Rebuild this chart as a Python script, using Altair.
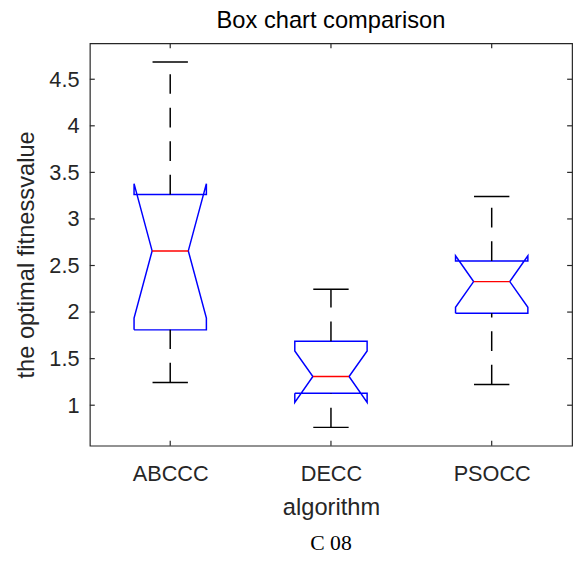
import altair as alt
import pandas as pd

# ---- data ----
categories = ["ABCCC", "DECC", "PSOCC"]
positions = [1, 2, 3]
upper_whisker = [4.684, 2.245, 3.242]
q3 = [3.263, 1.688, 2.549]
median = [2.657, 1.308, 2.327]
q1 = [1.809, 1.128, 1.988]
lower_whisker = [1.244, 0.762, 1.223]
notch_hi = [3.379, 1.583, 2.605]
notch_lo = [1.935, 1.029, 2.052]
y_tick_values = [1, 1.5, 2, 2.5, 3, 3.5, 4, 4.5]
y_domain = [0.565, 4.885]
x_domain = [0.5, 3.5]

# ---- style ----
W, H = 489, 408
BOX_HALF = 0.225
NOTCH_HALF = 0.1125
CAP_HALF = 0.11
AX = "#262626"
FONT = "Liberation Sans"

rows = []
for i, c in enumerate(categories):
    p = positions[i]
    pts = [
        (p - BOX_HALF, q1[i]), (p - BOX_HALF, notch_lo[i]), (p - NOTCH_HALF, median[i]),
        (p - BOX_HALF, notch_hi[i]), (p - BOX_HALF, q3[i]), (p + BOX_HALF, q3[i]),
        (p + BOX_HALF, notch_hi[i]), (p + NOTCH_HALF, median[i]), (p + BOX_HALF, notch_lo[i]),
        (p + BOX_HALF, q1[i]), (p - BOX_HALF, q1[i]),
    ]
    for k, (x, y) in enumerate(pts):
        rows.append({"cat": c, "order": k, "x": x, "y": y})
box_df = pd.DataFrame(rows)

stats = pd.DataFrame({
    "cat": categories, "pos": positions, "upper": upper_whisker, "q3": q3,
    "median": median, "q1": q1, "lower": lower_whisker,
})
stats["cap_l"] = stats["pos"] - CAP_HALF
stats["cap_r"] = stats["pos"] + CAP_HALF
stats["med_l"] = stats["pos"] - NOTCH_HALF
stats["med_r"] = stats["pos"] + NOTCH_HALF

xs = alt.Scale(domain=x_domain, nice=False, zero=False)
ys = alt.Scale(domain=y_domain, nice=False, zero=False)

label_expr = "[" + ",".join(f"'{c}'" for c in categories) + "][datum.value-1]"

x_axis = alt.Axis(values=positions, labelExpr=label_expr, title="algorithm", tickSize=0,
                  labelPadding=35, labelBaseline="alphabetic", titleBaseline="alphabetic",
                  titleY=70, domain=False, grid=False, ticks=False)
y_axis = alt.Axis(values=y_tick_values, format="~g", title="the optimal fitnessvalue",
                  tickSize=0, labelPadding=11, titleBaseline="alphabetic", titleX=-57,
                  titleY=214, titleAngle=270, titleAlign="center", domain=False,
                  grid=False, ticks=False)


def X(field):
    return alt.X(field, scale=xs, axis=x_axis, title="algorithm")


def Y(field):
    return alt.Y(field, scale=ys, axis=y_axis, title="the optimal fitnessvalue")


boxes = alt.Chart(box_df).mark_line(color="#0000FF", strokeWidth=1.5).encode(
    x=X("x:Q"), y=Y("y:Q"), detail="cat:N", order="order:Q",
)

base = alt.Chart(stats)
upper_w = base.mark_rule(color="black", strokeWidth=1.5, strokeDash=[20, 14]).encode(
    x=X("pos:Q"), y=Y("q3:Q"), y2="upper:Q")
lower_w = base.mark_rule(color="black", strokeWidth=1.5, strokeDash=[20, 14]).encode(
    x=X("pos:Q"), y=Y("lower:Q"), y2="q1:Q")
upper_cap = base.mark_rule(color="black", strokeWidth=1.5).encode(
    x=X("cap_l:Q"), x2="cap_r:Q", y=Y("upper:Q"))
lower_cap = base.mark_rule(color="black", strokeWidth=1.5).encode(
    x=X("cap_l:Q"), x2="cap_r:Q", y=Y("lower:Q"))
med = base.mark_rule(color="#FF0000", strokeWidth=1.5).encode(
    x=X("med_l:Q"), x2="med_r:Q", y=Y("median:Q"))

ytick_df = pd.DataFrame({"v": y_tick_values})
xtick_df = pd.DataFrame({"p": positions})
TL = 5
yt_left = alt.Chart(ytick_df).mark_rule(color=AX, strokeWidth=1.2).encode(
    y=Y("v:Q"), x=alt.value(0), x2=alt.value(TL))
yt_right = alt.Chart(ytick_df).mark_rule(color=AX, strokeWidth=1.2).encode(
    y=Y("v:Q"), x=alt.value(W - TL), x2=alt.value(W))
xt_top = alt.Chart(xtick_df).mark_rule(color=AX, strokeWidth=1.2).encode(
    x=X("p:Q"), y=alt.value(0), y2=alt.value(TL))
xt_bot = alt.Chart(xtick_df).mark_rule(color=AX, strokeWidth=1.2).encode(
    x=X("p:Q"), y=alt.value(H - TL), y2=alt.value(H))

caption = alt.Chart(pd.DataFrame({"t": ["C 08"]})).mark_text(
    font="Liberation Serif", fontSize=22, baseline="alphabetic", color="black"
).encode(x=alt.value(W / 2), y=alt.value(H + 106), text="t:N")

chart = alt.layer(
    boxes, upper_w, lower_w, upper_cap, lower_cap, med,
    yt_left, yt_right, xt_top, xt_bot, caption,
).properties(
    width=W, height=H,
    title=alt.Title("Box chart comparison", fontSize=24, font=FONT, fontWeight="normal",
                    color="black", offset=10),
    autosize=alt.AutoSizeParams(type="none"),
    padding={"left": 83, "top": 32, "right": 5, "bottom": 112},
).configure_view(
    stroke=AX, strokeWidth=1.2
).configure_axis(
    labelFont=FONT, titleFont=FONT, labelFontSize=22, titleFontSize=24,
    labelColor=AX, titleColor=AX, titleFontWeight="normal",
)

chart.save("out.html", embed_options={"renderer": "svg", "actions": False})
